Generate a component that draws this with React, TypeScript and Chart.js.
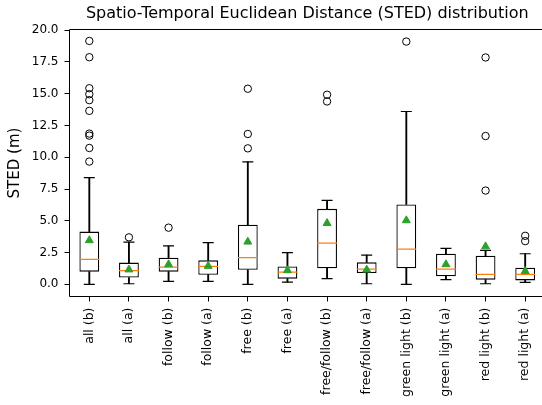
import React, { useEffect, useRef } from 'react';
import { Chart, registerables } from 'chart.js';

Chart.register(...registerables);

const categories = [
  'all (b)', 'all (a)', 'follow (b)', 'follow (a)', 'free (b)', 'free (a)',
  'free/follow (b)', 'free/follow (a)', 'green light (b)', 'green light (a)',
  'red light (b)', 'red light (a)',
];
const whiskerLow = [0, 0.05, 0.24, 0.24, 0, 0.18, 0.45, 0.05, 0, 0.37, 0.05, 0.16];
const q1 = [1.0, 0.53, 1.0, 0.76, 1.15, 0.45, 1.26, 0.89, 1.26, 0.63, 0.37, 0.31];
const medians = [1.97, 1.08, 1.36, 1.42, 2.1, 0.97, 3.24, 1.2, 2.77, 1.2, 0.79, 0.79];
const q3 = [4.15, 1.71, 2.1, 1.89, 4.69, 1.41, 5.94, 1.73, 6.28, 2.41, 2.25, 1.31];
const whiskerHigh = [8.4, 3.33, 3.02, 3.28, 9.63, 2.49, 6.6, 2.3, 13.6, 2.83, 2.67, 2.41];
const means = [3.46, 1.16, 1.57, 1.44, 3.35, 1.1, 4.81, 1.15, 5.03, 1.57, 2.98, 1.04];
const outliers: number[][] = [
  [19.15, 17.87, 15.43, 14.96, 14.49, 13.65, 11.86, 11.7, 10.73, 9.66],
  [3.7],
  [4.46],
  [],
  [15.39, 11.83, 10.7],
  [],
  [14.92, 14.39],
  [],
  [19.1],
  [],
  [17.85, 11.67, 7.38],
  [3.82, 3.4],
];
const yTicks = [0, 2.5, 5, 7.5, 10, 12.5, 15, 17.5, 20];

const FONT = 'DejaVu Sans';

const framePlugin = {
  id: 'frame',
  afterDraw(chart: any) {
    const { ctx, chartArea: a } = chart;
    ctx.save();
    ctx.strokeStyle = '#000';
    ctx.lineWidth = 1;
    ctx.beginPath();
    ctx.moveTo(a.right, a.top);
    ctx.lineTo(a.left, a.top);
    ctx.lineTo(a.left, a.bottom);
    ctx.lineTo(a.right, a.bottom);
    ctx.lineTo(a.right, a.top);
    ctx.stroke();
    ctx.restore();
  },
};

export default function App() {
  const ref = useRef<HTMLCanvasElement | null>(null);

  useEffect(() => {
    if (!ref.current) return;
    const pts = (vals: number[]) => vals.map((v, i) => ({ x: categories[i], y: v }));
    const outlierPts: { x: string; y: number }[] = [];
    outliers.forEach((list, i) => list.forEach((v) => outlierPts.push({ x: categories[i], y: v })));

    const chart = new Chart(ref.current, {
      type: 'bar',
      data: {
        labels: categories,
        datasets: [
          {
            type: 'bar',
            data: categories.map((_, i) => [q1[i], q3[i]]),
            backgroundColor: '#ffffff',
            borderColor: '#000000',
            borderWidth: 1.3,
            borderSkipped: false,
            barPercentage: 0.5,
            categoryPercentage: 1,
            grouped: false,
            order: 5,
          } as any,
          {
            type: 'bar',
            data: categories.map((_, i) => [whiskerLow[i], q1[i]]),
            backgroundColor: '#000000',
            borderWidth: 0,
            barThickness: 1.2,
            grouped: false,
            order: 6,
          } as any,
          {
            type: 'bar',
            data: categories.map((_, i) => [q3[i], whiskerHigh[i]]),
            backgroundColor: '#000000',
            borderWidth: 0,
            barThickness: 1.2,
            grouped: false,
            order: 6,
          } as any,
          {
            type: 'line',
            data: [...pts(whiskerLow), ...pts(whiskerHigh)],
            showLine: false,
            pointStyle: 'line',
            pointRadius: 5.5,
            pointBorderColor: '#000000',
            pointBorderWidth: 1.2,
            order: 4,
          } as any,
          {
            type: 'line',
            data: pts(medians),
            showLine: false,
            pointStyle: 'line',
            pointRadius: 9.9,
            pointBorderColor: '#ff7f0e',
            pointBorderWidth: 1.2,
            order: 3,
          } as any,
          {
            type: 'line',
            data: outlierPts,
            showLine: false,
            pointStyle: 'circle',
            pointRadius: 3.7,
            pointBackgroundColor: 'rgba(0,0,0,0)',
            pointBorderColor: '#000000',
            pointBorderWidth: 1,
            order: 2,
          } as any,
          {
            type: 'line',
            data: pts(means),
            showLine: false,
            pointStyle: 'triangle',
            pointRadius: 4.6,
            pointBackgroundColor: '#2ca02c',
            pointBorderColor: '#2ca02c',
            pointBorderWidth: 1,
            order: 1,
          } as any,
        ],
      },
      options: {
        responsive: false,
        maintainAspectRatio: false,
        devicePixelRatio: 1,
        animation: false,
        layout: { padding: { left: 0, right: 55, top: 0, bottom: 0 } },
        plugins: {
          legend: { display: false },
          tooltip: { enabled: false },
          title: {
            display: true,
            text: 'Spatio-Temporal Euclidean Distance (STED) distribution',
            fullSize: false,
            color: '#000',
            font: { family: FONT, size: 16, weight: 'normal' },
            padding: { top: 4, bottom: 6.3 },
          },
        },
        scales: {
          x: {
            type: 'category',
            offset: true,
            grid: { drawOnChartArea: false, drawTicks: true, tickLength: 5, color: '#000', offset: false },
            border: { display: false },
            ticks: {
              color: '#000',
              font: { family: FONT, size: 12.5 },
              minRotation: 90,
              maxRotation: 90,
              padding: 6,
              autoSkip: false,
            },
            afterFit: (s: any) => { s.height = 108.5; s.paddingLeft = 0; s.paddingRight = 0; },
          },
          y: {
            type: 'linear',
            min: -0.955,
            max: 20.05,
            grid: { drawOnChartArea: false, drawTicks: true, tickLength: 5, color: '#000' },
            border: { display: false },
            afterBuildTicks: (s: any) => { s.ticks = yTicks.map((v) => ({ value: v })); },
            ticks: {
              color: '#000',
              font: { family: FONT, size: 12 },
              padding: 6,
              callback: (v: any) => Number(v).toFixed(1),
            },
            title: {
              display: true,
              text: 'STED (m)',
              color: '#000',
              font: { family: FONT, size: 15 },
              padding: { top: 6, bottom: 0 },
            },
            afterFit: (s: any) => { s.width = 69.5; s.paddingTop = 0; s.paddingBottom = 0; },
          },
        },
      },
      plugins: [framePlugin],
    });
    return () => chart.destroy();
  }, []);

  return (
    <div style={{ position: 'fixed', left: 0, top: 0, width: 542, height: 405, overflow: 'hidden', background: '#fff' }}>
      <canvas ref={ref} width={600} height={405} style={{ width: 600, height: 405, display: 'block' }} />
    </div>
  );
}
